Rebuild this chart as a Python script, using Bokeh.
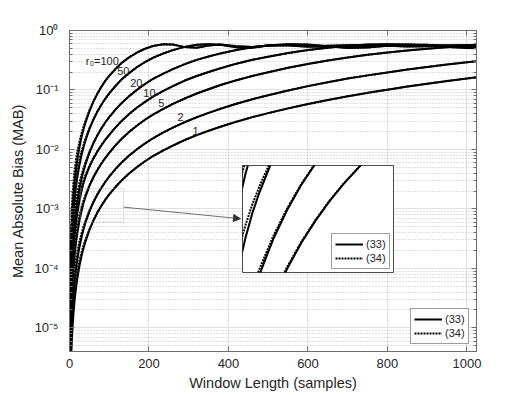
from bokeh.plotting import figure
from bokeh.layouts import column
from bokeh.models import (ColumnDataSource, FixedTicker, CustomJSTickFormatter, LinearAxis, LogAxis,
                          Legend, LegendItem, BoxAnnotation, Arrow, NormalHead, Range1d)
from bokeh.core.properties import value
from bokeh.embed import file_html
from bokeh.resources import INLINE

# ---------------- data ----------------
window_length = [1, 2, 3, 4, 6, 8, 10, 13, 16, 20, 25, 30, 35, 40, 50, 60, 70, 80, 90, 100,
                 115, 130, 150, 170, 190, 210, 235, 260, 290, 320, 350, 380, 420, 460, 500,
                 550, 600, 650, 700, 750, 800, 850, 900, 950, 1000, 1024]

r0_values = [1, 2, 5, 10, 20, 50, 100]

# eq. (33), solid curves
mab33_r1 = [1.75e-7, 7.0e-7, 1.58e-6, 2.8e-6, 6.3e-6, 1.12e-5, 1.75e-5, 2.96e-5, 4.48e-5, 7.0e-5,
            1.09e-4, 1.58e-4, 2.14e-4, 2.8e-4, 4.38e-4, 6.3e-4, 8.58e-4, 1.12e-3, 1.42e-3, 1.75e-3,
            2.31e-3, 2.96e-3, 3.94e-3, 5.06e-3, 6.32e-3, 7.72e-3, 9.55e-3, 0.0116, 0.0144, 0.0174,
            0.0206, 0.0241, 0.0293, 0.0349, 0.0408, 0.049, 0.058, 0.0676, 0.0782, 0.0894,
            0.101, 0.114, 0.127, 0.141, 0.156, 0.163]
mab33_r2 = [3.64e-7, 1.46e-6, 3.28e-6, 5.82e-6, 1.31e-5, 2.33e-5, 3.64e-5, 6.16e-5, 9.32e-5, 1.46e-4,
            2.27e-4, 3.28e-4, 4.45e-4, 5.82e-4, 9.01e-4, 1.285e-3, 1.737e-3, 2.24e-3, 2.84e-3, 3.5e-3,
            4.62e-3, 5.92e-3, 7.88e-3, 0.0101, 0.0126, 0.0154, 0.0191, 0.0233, 0.0288, 0.0348,
            0.0412, 0.0482, 0.0586, 0.0698, 0.0815, 0.098, 0.116, 0.135, 0.156, 0.176,
            0.197, 0.220, 0.244, 0.268, 0.292, 0.303]
mab33_r5 = [1.01e-6, 4.03e-6, 9.06e-6, 1.61e-5, 3.62e-5, 6.44e-5, 1.01e-4, 1.70e-4, 2.58e-4, 4.03e-4,
            6.27e-4, 9.06e-4, 1.23e-3, 1.58e-3, 2.41e-3, 3.37e-3, 4.48e-3, 5.74e-3, 7.17e-3, 8.75e-3,
            0.0116, 0.0148, 0.0197, 0.0253, 0.0316, 0.0386, 0.0478, 0.0582, 0.0719, 0.0871,
            0.103, 0.121, 0.146, 0.172, 0.198, 0.236, 0.274, 0.313, 0.352, 0.390,
            0.426, 0.462, 0.495, 0.525, 0.552, 0.562]
mab33_r10 = [2.19e-6, 8.75e-6, 1.97e-5, 3.5e-5, 7.88e-5, 1.4e-4, 2.19e-4, 3.7e-4, 5.6e-4, 8.75e-4,
             1.36e-3, 1.97e-3, 2.68e-3, 3.42e-3, 5.08e-3, 6.99e-3, 9.18e-3, 0.01165, 0.01448, 0.0175,
             0.0231, 0.0296, 0.0394, 0.0506, 0.0632, 0.0772, 0.0955, 0.116, 0.144, 0.172,
             0.200, 0.232, 0.277, 0.321, 0.363, 0.417, 0.468, 0.513, 0.552, 0.580,
             0.590, 0.582, 0.561, 0.530, 0.509, 0.505]
mab33_r20 = [3.5e-6, 1.4e-5, 3.15e-5, 5.6e-5, 1.26e-4, 2.24e-4, 3.5e-4, 5.92e-4, 8.96e-4, 1.4e-3,
             2.18e-3, 3.15e-3, 4.28e-3, 5.6e-3, 8.75e-3, 0.0126, 0.0172, 0.0224, 0.0284, 0.035,
             0.0462, 0.0592, 0.0788, 0.101, 0.126, 0.154, 0.187, 0.224, 0.272, 0.321,
             0.366, 0.412, 0.471, 0.522, 0.562, 0.589, 0.580, 0.543, 0.509, 0.518,
             0.556, 0.578, 0.574, 0.554, 0.532, 0.526]
mab33_r50 = [8.75e-6, 3.5e-5, 7.88e-5, 1.4e-4, 3.15e-4, 5.6e-4, 8.75e-4, 1.48e-3, 2.24e-3, 3.5e-3,
             5.45e-3, 7.88e-3, 0.0107, 0.014, 0.0219, 0.0315, 0.0429, 0.056, 0.071, 0.0875,
             0.1155, 0.148, 0.192, 0.243, 0.295, 0.348, 0.409, 0.468, 0.530, 0.575,
             0.589, 0.574, 0.521, 0.513, 0.558, 0.578, 0.548, 0.526, 0.551, 0.571,
             0.556, 0.536, 0.542, 0.561, 0.566, 0.562]
mab33_r100 = [1.75e-5, 7.0e-5, 1.58e-4, 2.8e-4, 6.3e-4, 1.12e-3, 1.75e-3, 2.96e-3, 4.48e-3, 7.0e-3,
              0.0109, 0.0158, 0.0214, 0.028, 0.0438, 0.063, 0.0858, 0.112, 0.142, 0.1725,
              0.223, 0.280, 0.354, 0.4265, 0.493, 0.549, 0.587, 0.5795, 0.5255, 0.512,
              0.5605, 0.579, 0.546, 0.528, 0.5605, 0.562, 0.535, 0.553, 0.566, 0.546,
              0.548, 0.562, 0.550, 0.552, 0.562, 0.558]

# eq. (34), dotted curves: differ visibly only for short windows (first 20 window lengths, N <= 100);
# beyond that they coincide with (33)
mab34_head_r1 = [3.15e-7, 1.26e-6, 2.84e-6, 5.04e-6, 1.10e-5, 1.90e-5, 2.89e-5, 4.59e-5, 6.50e-5, 9.45e-5,
                 1.36e-4, 1.84e-4, 2.38e-4, 3.00e-4, 4.53e-4, 6.43e-4, 8.69e-4, 1.129e-3, 1.429e-3, 1.757e-3]
mab34_head_r2 = [6.55e-7, 2.62e-6, 5.90e-6, 1.048e-5, 2.30e-5, 3.96e-5, 6.01e-5, 9.55e-5, 1.35e-4, 1.97e-4,
                 2.84e-4, 3.84e-4, 4.94e-4, 6.23e-4, 9.33e-4, 1.311e-3, 1.755e-3, 2.258e-3, 2.857e-3, 3.514e-3]
mab34_head_r5 = [1.81e-6, 7.25e-6, 1.63e-5, 2.90e-5, 6.34e-5, 1.095e-4, 1.66e-4, 2.63e-4, 3.74e-4, 5.44e-4,
                 7.83e-4, 1.06e-3, 1.37e-3, 1.70e-3, 2.49e-3, 3.43e-3, 4.55e-3, 5.79e-3, 7.21e-3, 8.79e-3]
mab34_head_r10 = [3.94e-6, 1.575e-5, 3.55e-5, 6.3e-5, 1.375e-4, 2.375e-4, 3.61e-4, 5.74e-4, 8.13e-4, 1.18e-3,
                  1.70e-3, 2.30e-3, 2.98e-3, 3.66e-3, 5.25e-3, 7.14e-3, 9.30e-3, 0.01174, 0.01458, 0.01757]
mab34_head_r20 = [6.3e-6, 2.52e-5, 5.67e-5, 1.008e-4, 2.21e-4, 3.81e-4, 5.78e-4, 9.18e-4, 1.30e-3, 1.89e-3,
                  2.73e-3, 3.69e-3, 4.75e-3, 5.99e-3, 9.06e-3, 0.01285, 0.01738, 0.02258, 0.02857, 0.03514]
mab34_head_r50 = [1.575e-5, 6.3e-5, 1.42e-4, 2.52e-4, 5.51e-4, 9.52e-4, 1.44e-3, 2.29e-3, 3.25e-3, 4.73e-3,
                  6.81e-3, 9.21e-3, 0.0119, 0.0150, 0.0226, 0.0321, 0.0435, 0.0565, 0.0714, 0.0879]
mab34_head_r100 = [3.15e-5, 1.26e-4, 2.84e-4, 5.04e-4, 1.10e-3, 1.90e-3, 2.89e-3, 4.59e-3, 6.50e-3, 9.45e-3,
                   0.0136, 0.0184, 0.0238, 0.0300, 0.0453, 0.0643, 0.0869, 0.1129, 0.1429, 0.1732]

curve_labels = ["r\u2080=100", "50", "20", "10", "5", "2", "1"]
curve_label_x = [82.5, 135.4, 168.2, 201.0, 231.3, 279.2, 317.0]
curve_label_y = [0.304, 0.2065, 0.1297, 0.088, 0.0597, 0.0347, 0.0202]

x_ticks = [0, 200, 400, 600, 800, 1000]
y_ticks = [1e-5, 1e-4, 1e-3, 1e-2, 1e-1, 1e0]
x_limits = [0, 1024]
y_limits = [4e-6, 1.0]

# zoomed region shown in the inset
inset_x = [28, 136]
inset_y = [6.0e-4, 2.2e-3]
arrow_start = [136, 1.07e-3]
arrow_end = [430, 6.84e-4]

legend_labels = ["(33)", "(34)"]

# ---------------- build ----------------
mab33 = [mab33_r1, mab33_r2, mab33_r5, mab33_r10, mab33_r20, mab33_r50, mab33_r100]
heads = [mab34_head_r1, mab34_head_r2, mab34_head_r5, mab34_head_r10, mab34_head_r20,
         mab34_head_r50, mab34_head_r100]
n_head = len(mab34_head_r1)
mab34 = [h + s[n_head:] for h, s in zip(heads, mab33)]

FONT = "Liberation Sans"
TXT = "#262626"
AX = "#6e6e6e"
LW = 2
DOT = "2 1"

BORDER_L, BORDER_R, BORDER_T, BORDER_B = 69, 50, 30, 43

y_minor = [m * d for d in [1e-6, 1e-5, 1e-4, 1e-3, 1e-2, 1e-1] for m in range(2, 10)]

p = figure(frame_width=407, frame_height=321,
           x_range=Range1d(*x_limits), y_range=Range1d(*y_limits),
           y_axis_type="log", output_backend="svg", toolbar_location=None,
           min_border_left=BORDER_L, min_border_right=BORDER_R,
           min_border_top=BORDER_T, min_border_bottom=BORDER_B)
p.background_fill_color = "white"
p.border_fill_color = "white"
p.outline_line_color = AX

xt = FixedTicker(ticks=x_ticks)
yt = FixedTicker(ticks=y_ticks, minor_ticks=y_minor)

sup = CustomJSTickFormatter(code="""
const s = {"-":"\u207b","0":"\u2070","1":"\u00b9","2":"\u00b2","3":"\u00b3","4":"\u2074",
           "5":"\u2075","6":"\u2076","7":"\u2077","8":"\u2078","9":"\u2079"};
const e = Math.round(Math.log10(tick));
return "10" + String(e).split("").map(c => s[c]).join("");
""")
blank = CustomJSTickFormatter(code="return '';")


def style_axis(ax, minor=False):
    ax.axis_line_color = AX
    ax.major_tick_line_color = AX
    ax.major_tick_in = 5
    ax.major_tick_out = 0
    if minor:
        ax.minor_tick_line_color = AX
        ax.minor_tick_in = 3
        ax.minor_tick_out = 0
    else:
        ax.minor_tick_line_color = None
    ax.major_label_text_font = FONT
    ax.major_label_text_font_size = "13px"
    ax.major_label_text_color = TXT
    ax.axis_label_text_font = FONT
    ax.axis_label_text_font_size = "14.5px"
    ax.axis_label_text_font_style = "normal"
    ax.axis_label_text_color = TXT


xa = p.xaxis[0]
xa.ticker = xt
style_axis(xa)
xa.major_label_standoff = 7
xa.axis_label = "Window Length (samples)"
xa.axis_label_standoff = 4

ya = p.yaxis[0]
ya.ticker = yt
ya.formatter = sup
style_axis(ya, minor=True)
ya.major_label_standoff = 11
ya.axis_label = "Mean Absolute Bias (MAB)"
ya.axis_label_standoff = 5

top = LinearAxis(ticker=xt, formatter=blank)
style_axis(top)
p.add_layout(top, "above")
right = LogAxis(ticker=yt, formatter=blank)
style_axis(right, minor=True)
p.add_layout(right, "right")

p.xgrid.ticker = xt
p.xgrid.grid_line_color = "#e2e2e2"
p.ygrid.ticker = yt
p.ygrid.grid_line_color = "#e2e2e2"
p.ygrid.minor_grid_line_color = "#c2c2c2"
p.ygrid.minor_grid_line_dash = "1 2"

solid_r, dot_r = [], []
for s33, s34 in zip(mab33, mab34):
    src = ColumnDataSource(dict(n=window_length, a=s33, b=s34))
    solid_r.append(p.line("n", "a", source=src, line_color="black", line_width=LW))
    dot_r.append(p.line("n", "b", source=src, line_color="black", line_width=LW, line_dash=DOT))

lab_src = ColumnDataSource(dict(x=curve_label_x, y=curve_label_y, t=curve_labels))
p.text("x", "y", text="t", source=lab_src, text_font=value(FONT), text_font_size="11px",
       text_color=TXT, text_align="center", text_baseline="middle")

p.add_layout(BoxAnnotation(left=inset_x[0], right=inset_x[1], bottom=inset_y[0], top=inset_y[1],
                           fill_color=None, line_color="#a0a0a0", line_width=1.2))
p.add_layout(Arrow(x_start=arrow_start[0], y_start=arrow_start[1], x_end=arrow_end[0], y_end=arrow_end[1],
                   line_color="#707070", line_width=1,
                   end=NormalHead(size=7, fill_color="#333333", line_color="#333333", line_width=1)))


def make_legend(rs, rd, margin):
    return Legend(items=[LegendItem(label=legend_labels[0], renderers=[rs]),
                         LegendItem(label=legend_labels[1], renderers=[rd])],
                  location="bottom_right", margin=margin, padding=3, spacing=0, label_standoff=3,
                  glyph_width=28, glyph_height=14, label_height=14,
                  border_line_color="#3c3c3c", border_line_width=1,
                  background_fill_color="white", background_fill_alpha=1.0,
                  label_text_font=FONT, label_text_font_size="11px", label_text_color=TXT)


p.add_layout(make_legend(solid_r[0], dot_r[0], 7))

# ---------------- inset ----------------
# Bokeh aligns the frames of plots stacked in a column, so the inset gets the same
# left/right borders as the main plot; its total width accounts for that.
INSET_FRAME_W, INSET_FRAME_H = 151, 107
inset_w = BORDER_L + INSET_FRAME_W + BORDER_R
inset = figure(width=inset_w, height=INSET_FRAME_H + 2, x_range=Range1d(*inset_x), y_range=Range1d(*inset_y),
               y_axis_type="log", x_axis_location=None, y_axis_location=None,
               output_backend="svg", toolbar_location=None, min_border=1,
               min_border_left=BORDER_L, min_border_right=BORDER_R)
inset.background_fill_color = "white"
inset.border_fill_color = None
inset.outline_line_color = "#4d4d4d"
inset.grid.visible = False
in_s, in_d = [], []
for s33, s34 in zip(mab33, mab34):
    src = ColumnDataSource(dict(n=window_length, a=s33, b=s34))
    in_s.append(inset.line("n", "a", source=src, line_color="black", line_width=LW))
    in_d.append(inset.line("n", "b", source=src, line_color="black", line_width=LW, line_dash=DOT))
inset.add_layout(make_legend(in_s[0], in_d[0], 3))
inset.styles = {"position": "absolute", "left": f"{242 - BORDER_L}px", "top": "164px",
                "width": f"{inset_w}px", "height": f"{INSET_FRAME_H + 2}px"}

layout = column(p, inset)

open("out.html", "w").write(file_html(layout, INLINE))
